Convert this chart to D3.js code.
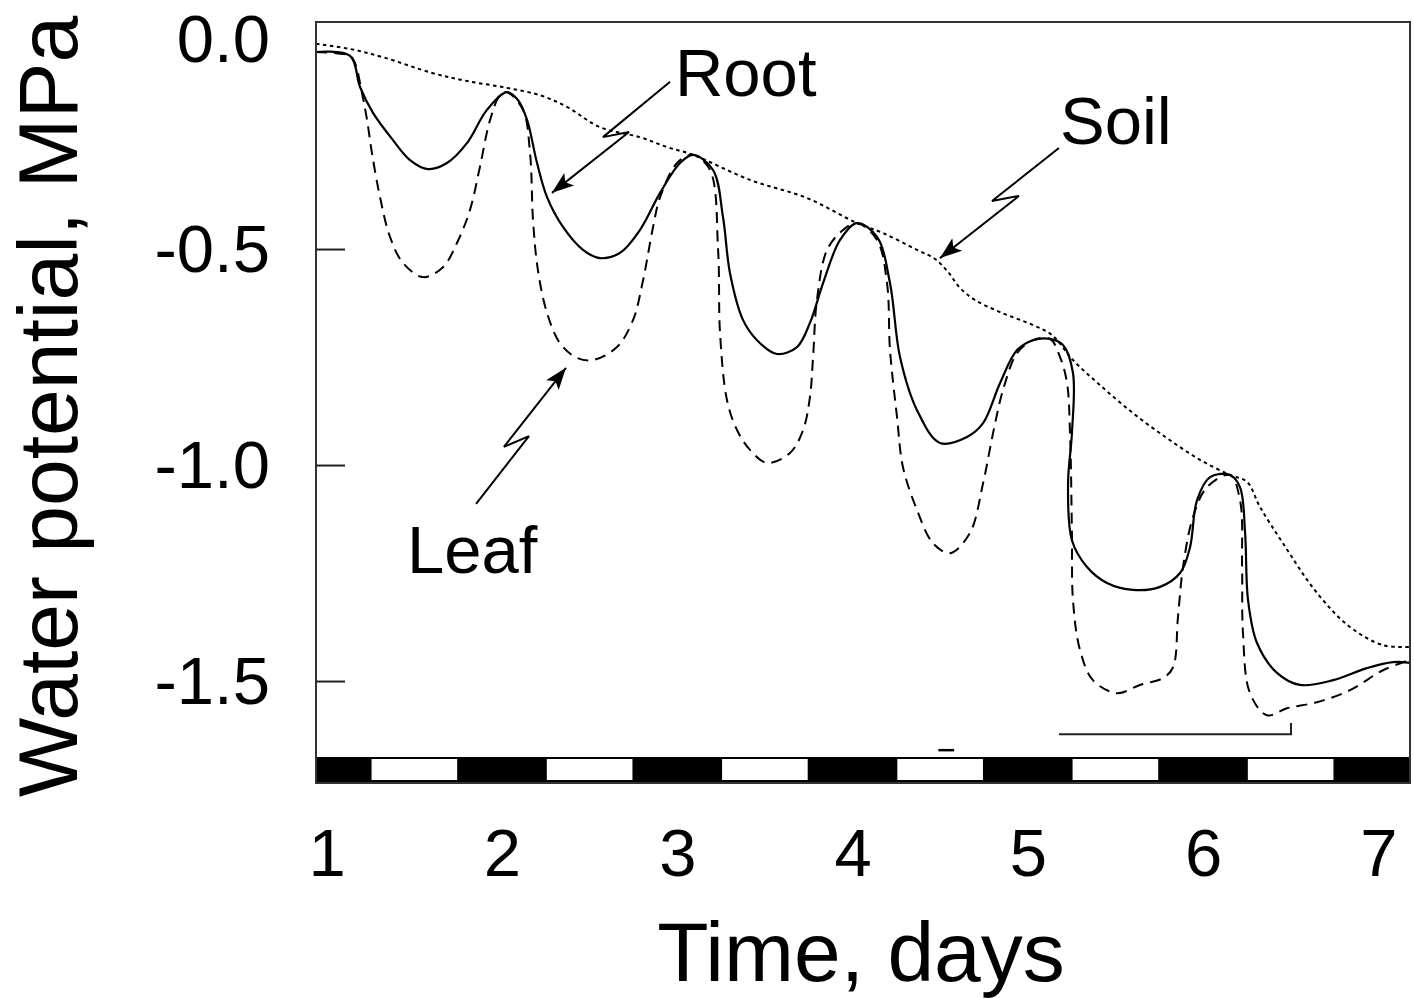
<!DOCTYPE html>
<html>
<head>
<meta charset="utf-8">
<script src="https://cdn.jsdelivr.net/npm/d3@7"></script>
<style>
  html, body { margin: 0; padding: 0; background: #fff; }
  svg { display: block; }
  text { font-family: "Liberation Sans", Arial, Helvetica, sans-serif; fill: #000; }
</style>
</head>
<body>
<svg id="chart" width="1414" height="998"></svg>
<script>
// ---------- data (days, MPa) ----------
const xTickValues = [1, 2, 3, 4, 5, 6, 7];
const xTickLabels = ["1", "2", "3", "4", "5", "6", "7"];
const yTickValues = [0, -0.5, -1.0, -1.5];
const yTickLabels = ["0.0", "-0.5", "-1.0", "-1.5"];
const lightStarts = [1.25, 2.25, 3.25, 4.25, 5.25, 6.25];
const lightEnds   = [1.75, 2.75, 3.75, 4.75, 5.75, 6.75];

const soilDay = [0.939,1.133,1.321,1.606,1.800,2.028,2.217,2.371,2.559,2.787,2.941,3.090,3.415,3.740,4.026,4.174,4.368,4.471,4.545,4.613,4.699,4.842,5.030,5.138,5.258,5.412,5.601,5.795,5.983,6.154,6.251,6.325,6.456,6.650,6.839,7.027,7.181];
const soilPsi = [-0.025,-0.037,-0.056,-0.093,-0.111,-0.127,-0.144,-0.171,-0.218,-0.241,-0.264,-0.282,-0.340,-0.382,-0.440,-0.463,-0.502,-0.523,-0.553,-0.590,-0.618,-0.646,-0.676,-0.699,-0.757,-0.815,-0.880,-0.938,-0.988,-1.023,-1.039,-1.097,-1.181,-1.296,-1.375,-1.417,-1.421];

const rootDay = [0.939,1.133,1.190,1.264,1.378,1.475,1.578,1.686,1.800,1.914,2.028,2.091,2.143,2.200,2.257,2.348,2.462,2.559,2.673,2.787,2.902,3.016,3.090,3.204,3.261,3.301,3.375,3.455,3.569,3.683,3.757,3.832,3.929,4.026,4.140,4.214,4.271,4.368,4.499,4.653,4.745,4.842,4.939,5.030,5.127,5.201,5.258,5.252,5.230,5.252,5.338,5.452,5.601,5.755,5.869,5.926,5.966,6.040,6.154,6.211,6.240,6.257,6.308,6.422,6.553,6.742,6.936,7.084,7.181];
const rootPsi = [-0.044,-0.053,-0.125,-0.185,-0.248,-0.294,-0.315,-0.301,-0.255,-0.178,-0.137,-0.155,-0.201,-0.301,-0.380,-0.449,-0.502,-0.521,-0.509,-0.456,-0.370,-0.301,-0.282,-0.317,-0.426,-0.556,-0.664,-0.711,-0.743,-0.727,-0.671,-0.579,-0.479,-0.440,-0.472,-0.579,-0.750,-0.873,-0.949,-0.935,-0.903,-0.810,-0.734,-0.711,-0.708,-0.722,-0.787,-0.926,-1.042,-1.174,-1.236,-1.273,-1.289,-1.282,-1.250,-1.190,-1.081,-1.028,-1.023,-1.051,-1.157,-1.313,-1.412,-1.481,-1.509,-1.498,-1.470,-1.456,-1.458];

const leafDay = [0.939,1.133,1.161,1.201,1.230,1.258,1.304,1.361,1.435,1.549,1.663,1.743,1.817,1.874,1.932,1.989,2.028,2.120,2.160,2.177,2.205,2.257,2.331,2.428,2.519,2.656,2.748,2.805,2.862,2.902,2.999,3.090,3.187,3.233,3.244,3.284,3.341,3.415,3.512,3.643,3.718,3.757,3.775,3.797,3.855,3.946,4.026,4.140,4.197,4.214,4.254,4.288,4.368,4.459,4.556,4.670,4.745,4.802,4.859,4.939,5.030,5.127,5.184,5.224,5.241,5.252,5.258,5.298,5.372,5.509,5.640,5.772,5.829,5.857,5.886,5.943,6.023,6.154,6.211,6.223,6.228,6.268,6.365,6.479,6.650,6.839,7.027,7.181];
const leafPsi = [-0.044,-0.053,-0.069,-0.139,-0.201,-0.278,-0.380,-0.472,-0.532,-0.565,-0.542,-0.486,-0.410,-0.310,-0.201,-0.144,-0.137,-0.178,-0.278,-0.433,-0.549,-0.648,-0.718,-0.752,-0.757,-0.727,-0.664,-0.572,-0.449,-0.380,-0.301,-0.282,-0.317,-0.502,-0.694,-0.850,-0.919,-0.965,-0.995,-0.972,-0.919,-0.843,-0.750,-0.618,-0.502,-0.456,-0.440,-0.479,-0.579,-0.734,-0.889,-1.005,-1.104,-1.181,-1.204,-1.157,-1.042,-0.926,-0.826,-0.741,-0.711,-0.708,-0.750,-0.810,-0.926,-1.157,-1.313,-1.428,-1.498,-1.528,-1.509,-1.493,-1.468,-1.352,-1.236,-1.120,-1.051,-1.023,-1.081,-1.236,-1.389,-1.528,-1.579,-1.563,-1.549,-1.521,-1.475,-1.451];

// annotation labels and their zig-zag arrows (days, MPa)
const labelNames = ["Root", "Soil", "Leaf"];
const labelDay   = [2.987, 5.184, 1.458];
const labelPsi   = [-0.146, -0.257, -1.250];
const arrowDay = [[2.959, 2.576, 2.725, 2.285], [5.178, 4.796, 4.950, 4.499], [1.852, 2.154, 2.011, 2.365]];
const arrowPsi = [[-0.113, -0.241, -0.229, -0.370], [-0.266, -0.389, -0.377, -0.521], [-1.090, -0.933, -0.958, -0.775]];

// scale bracket near the bottom right
const bracketDay = [5.178, 6.502, 6.502];
const bracketPsi = [-1.623, -1.623, -1.597];

// ---------- layout ----------
const svg = d3.select("#chart");
const L = 316, R = 1410, T = 22, B = 783;
const x = d3.scaleLinear().domain([0.9387, 7.181]).range([L, R]);
const y = d3.scaleLinear().domain([0.0255, -1.736]).range([T, B]);

const zip = (a, b) => a.map((v, i) => [v, b[i]]);
const line = d3.line().x(d => x(d[0])).y(d => y(d[1])).curve(d3.curveCatmullRom.alpha(0.5));
const straight = d3.line().x(d => x(d[0])).y(d => y(d[1]));

// day/night bar
const barTop = 757;
svg.append("rect").attr("x", L).attr("y", barTop).attr("width", R - L).attr("height", B - barTop).attr("fill", "#000");
svg.selectAll("rect.day").data(lightStarts).enter().append("rect")
  .attr("class", "day")
  .attr("x", (d) => x(d) + 1)
  .attr("y", barTop + 2)
  .attr("width", (d, i) => x(lightEnds[i]) - x(d) - 2)
  .attr("height", B - barTop - 5)
  .attr("fill", "#fff");

// curves
svg.append("path").attr("d", line(zip(soilDay, soilPsi)))
  .attr("fill", "none").attr("stroke", "#000").attr("stroke-width", 2).attr("stroke-dasharray", "3.5,3.5");
svg.append("path").attr("d", line(zip(leafDay, leafPsi)))
  .attr("fill", "none").attr("stroke", "#000").attr("stroke-width", 2).attr("stroke-dasharray", "11,7");
svg.append("path").attr("d", line(zip(rootDay, rootPsi)))
  .attr("fill", "none").attr("stroke", "#000").attr("stroke-width", 2.2);

// bracket
svg.append("path").attr("d", straight(zip(bracketDay, bracketPsi)))
  .attr("fill", "none").attr("stroke", "#222").attr("stroke-width", 2);
// small mark above the bar
svg.append("path").attr("d", `M${x(4.49)},${y(-1.66)} L${x(4.58)},${y(-1.66)}`)
  .attr("stroke", "#000").attr("stroke-width", 2.5);

// frame
svg.append("rect").attr("x", L).attr("y", T).attr("width", R - L).attr("height", B - T)
  .attr("fill", "none").attr("stroke", "#333").attr("stroke-width", 2);

// y axis (ticks inward)
const yAxis = d3.axisLeft(y).tickValues(yTickValues)
  .tickFormat((d, i) => yTickLabels[i]).tickSize(-29).tickPadding(46);
const gy = svg.append("g").attr("transform", `translate(${L},0)`).call(yAxis);
gy.select(".domain").remove();
gy.selectAll(".tick line").attr("stroke", "#222").attr("stroke-width", 2)
  .attr("display", d => d === 0 ? "none" : null);
gy.selectAll(".tick text").attr("font-size", 67).attr("font-family", null)
  .attr("dy", d => d === 0 ? "0.42em" : "0.34em");

// x axis labels
const xAxis = d3.axisBottom(x).tickValues(xTickValues)
  .tickFormat((d, i) => xTickLabels[i]).tickSize(0).tickPadding(0);
const gx = svg.append("g").attr("transform", `translate(0,${B})`).call(xAxis);
gx.select(".domain").remove();
gx.selectAll(".tick text").attr("font-size", 67).attr("font-family", null)
  .attr("y", 93).attr("dy", 0);

// axis titles
svg.append("text").attr("transform", "translate(77,797) rotate(-90)")
  .attr("font-size", 84).attr("text-anchor", "start").text("Water potential, MPa");
svg.append("text").attr("x", 861).attr("y", 981).attr("text-anchor", "middle")
  .attr("font-size", 84).text("Time, days");

// arrowhead marker
svg.append("defs").append("marker")
  .attr("id", "head").attr("markerUnits", "userSpaceOnUse")
  .attr("viewBox", "0 -10 24 20").attr("refX", 22).attr("refY", 0)
  .attr("markerWidth", 24).attr("markerHeight", 20).attr("orient", "auto")
  .append("path").attr("d", "M0,-8 L22,0 L0,8 L5,0 Z").attr("fill", "#000");

arrowDay.forEach((ds, i) => {
  svg.append("path").attr("d", straight(zip(ds, arrowPsi[i])))
    .attr("fill", "none").attr("stroke", "#000").attr("stroke-width", 2)
    .attr("marker-end", "url(#head)");
});
labelNames.forEach((t, i) => {
  svg.append("text").attr("x", x(labelDay[i])).attr("y", y(labelPsi[i]))
    .attr("font-size", 67).text(t);
});
</script>
</body>
</html>
